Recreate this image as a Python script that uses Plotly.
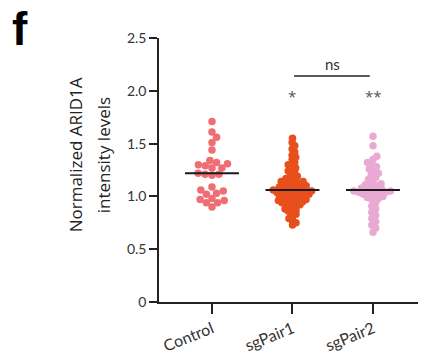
import math
import plotly.graph_objects as go

# ---------------- data ----------------
categories = ["Control", "sgPair1", "sgPair2"]

control_values = [1.71, 1.61, 1.56, 1.51, 1.44,
                  1.31, 1.27, 1.27, 1.29, 1.32, 1.34, 1.30,
                  1.22, 1.20, 1.21, 1.21,
                  1.05, 1.02, 1.06, 1.09, 1.03,
                  0.94, 0.98, 0.94, 0.97, 0.90, 0.96]

sgpair1_values = [0.73, 0.75, 0.77, 0.79,
                  0.81, 0.83, 0.85, 0.86, 0.87, 0.88, 0.89,
                  0.90, 0.91, 0.92, 0.93, 0.93, 0.94, 0.95, 0.95, 0.96, 0.96,
                  0.97, 0.97, 0.98, 0.99, 0.99,
                  1.00, 1.00, 1.01, 1.01, 1.02, 1.02, 1.03, 1.03, 1.04, 1.04, 1.04,
                  1.05, 1.05, 1.05, 1.06, 1.06, 1.07, 1.07, 1.08, 1.08, 1.09, 1.09,
                  1.10, 1.10, 1.11, 1.12, 1.12, 1.13, 1.14, 1.14, 1.15, 1.16,
                  1.17, 1.18, 1.19,
                  1.21, 1.22, 1.24, 1.25, 1.27, 1.29, 1.30,
                  1.32, 1.35, 1.37, 1.39,
                  1.42, 1.45, 1.48,
                  1.51, 1.55]

sgpair2_values = [1.57, 1.48,
                  1.38, 1.35, 1.32, 1.30, 1.28, 1.26, 1.24, 1.22, 1.20, 1.18,
                  1.16, 1.14, 1.12, 1.11, 1.10, 1.09, 1.08, 1.07, 1.06, 1.06,
                  1.05, 1.05, 1.04, 1.04, 1.03, 1.03, 1.02, 1.01, 1.00, 0.99,
                  0.98, 0.97,
                  0.94, 0.91, 0.88, 0.85, 0.82, 0.79, 0.76, 0.73, 0.70, 0.66]

mean_values = [1.22, 1.06, 1.06]

y_tick_values = [0, 0.5, 1.0, 1.5, 2.0, 2.5]
y_tick_labels = ["0", "0.5", "1.0", "1.5", "2.0", "2.5"]

y_title_lines = ["Normalized ARID1A", "intensity levels"]
sig_labels = ["*", "**"]
bracket_label = "ns"

# ---------------- style ----------------
colors = ["#EE6E74", "#E84F1C", "#E8AAD3"]
# the page body has an 8px margin; the figure is sized to fill the window
BODY = 8
W, H = 426 - BODY, 353 - BODY
margin = dict(l=159 - BODY, r=8, t=38 - BODY, b=51, autoexpand=False)
x_range = [-0.658, 2.559]
y_range = [0, 2.5]
plot_w = W - margin["l"] - margin["r"]
plot_h = H - margin["t"] - margin["b"]
px_per_x = plot_w / (x_range[1] - x_range[0])
px_per_y = plot_h / (y_range[1] - y_range[0])


def swarm_offsets(values, spacing_px):
    """Beeswarm layout: returns x offsets (in axis units) for each value."""
    order = sorted(range(len(values)), key=lambda i: values[i])
    placed = []  # (x_px, y_px)
    offsets = [0.0] * len(values)
    side = 1
    for i in order:
        y = values[i] * px_per_y
        cands = [0.0]
        for (px, py) in placed:
            dy = abs(py - y)
            if dy < spacing_px:
                dx = math.sqrt(spacing_px ** 2 - dy ** 2)
                cands += [px + dx + 1e-6, px - dx - 1e-6]
        best = None
        for c in sorted(cands, key=lambda c: (round(abs(c), 6), -side * c)):
            ok = all((c - px) ** 2 + (y - py) ** 2 >= spacing_px ** 2 - 1e-6
                     for (px, py) in placed)
            if ok:
                best = c
                break
        if best is not None and best != 0:
            side = -side
        placed.append((best, y))
        offsets[i] = best / px_per_x
    return offsets


groups = [control_values, sgpair1_values, sgpair2_values]
spacings = [7.0, 4.1, 5.0]

fig = go.Figure()
for gi, (vals, sp) in enumerate(zip(groups, spacings)):
    offs = swarm_offsets(vals, sp)
    fig.add_trace(go.Scatter(
        x=[gi + o for o in offs], y=vals, mode="markers",
        marker=dict(size=7.5, color=colors[gi], line=dict(width=0)),
        showlegend=False, hoverinfo="y", cliponaxis=False))

# mean lines
for gi, m in enumerate(mean_values):
    fig.add_trace(go.Scatter(
        x=[gi - 0.335, gi + 0.335], y=[m, m], mode="lines",
        line=dict(color="#1a1a1a", width=2), showlegend=False,
        hoverinfo="skip"))

font_family = "Lato, Open Sans, sans-serif"

fig.update_layout(
    width=W, height=H, margin=margin,
    plot_bgcolor="white", paper_bgcolor="white",
    font=dict(family=font_family, color="#333333"),
    xaxis=dict(
        range=x_range, tickmode="array", tickvals=[0, 1, 2], ticktext=categories,
        tickangle=-22, ticks="outside", ticklen=10, tickwidth=1.5, tickcolor="#222",
        showline=True, linewidth=1.5, linecolor="#222", showgrid=False,
        zeroline=False, automargin=False, tickfont=dict(size=16, color="#333")),
    yaxis=dict(
        range=y_range, tickmode="array", tickvals=y_tick_values, ticktext=y_tick_labels,
        ticks="outside", ticklen=8, tickwidth=1.5, tickcolor="#222",
        showline=True, linewidth=1.5, linecolor="#222", showgrid=False,
        zeroline=False, automargin=False, tickfont=dict(size=14, color="#333")),
)

# y-axis title (two rotated lines)
for line_text, xp in zip(y_title_lines, [-0.324, -0.216]):
    fig.add_annotation(
        text=line_text, textangle=-90,
        xref="paper", yref="paper", x=xp, y=0.556,
        xanchor="center", yanchor="middle", showarrow=False,
        font=dict(size=17, color="#222", family="Open Sans, sans-serif"))

# panel letter
fig.add_annotation(
    text="<b>f</b>", xref="paper", yref="paper", x=-0.572, y=1.136,
    xanchor="left", yanchor="top", showarrow=False, borderpad=0,
    font=dict(size=46, color="black", family="Liberation Sans, Arial"))

# significance marks
for gi, lab in zip([1, 2], sig_labels):
    fig.add_annotation(text=lab, x=gi, y=1.95, xref="x", yref="y",
                       showarrow=False,
                       font=dict(size=15, color="#555", family="Open Sans, sans-serif"))
fig.add_shape(type="line", x0=1.02, x1=1.96, y0=2.14, y1=2.14,
              xref="x", yref="y", line=dict(color="#222", width=1.5))
fig.add_annotation(text=bracket_label, x=1.5, y=2.25, xref="x", yref="y",
                   showarrow=False, font=dict(size=15, color="#333"))

fig.write_html("out.html")
